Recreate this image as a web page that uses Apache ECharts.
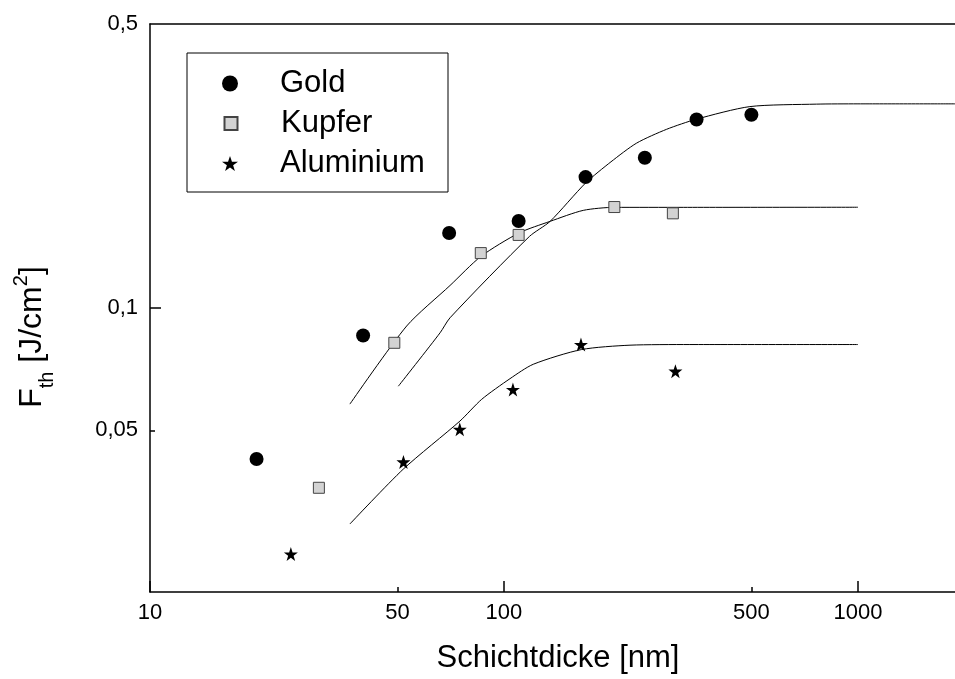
<!DOCTYPE html>
<html>
<head>
<meta charset="utf-8">
<script src="https://cdn.jsdelivr.net/npm/echarts@6/dist/echarts.min.js"></script>
<style>html,body{margin:0;padding:0;background:#fff}#c{width:955px;height:679px}</style>
</head>
<body>
<div id="c"></div>
<script>
// ---- data ----
const goldPoints = [[20,0.0425],[40,0.0856],[70,0.153],[110,0.1637],[170,0.210],[250,0.2343],[350,0.291],[500,0.299]];
const kupferPoints = [[30,0.0361],[49,0.0821],[86,0.1365],[110,0.1513],[205,0.1772],[300,0.171]];
const aluPoints = [[25,0.0248],[52,0.0418],[75,0.0503],[106,0.063],[165,0.0813],[305,0.0699]];

const goldFit = [[50.3,0.0642],[66,0.0869],[70.4,0.0946],[118,0.150],[135,0.1634],[170,0.203],[200.6,0.229],[237,0.2546],[288,0.2753],[350,0.2916],[495,0.3131],[764,0.3175],[1000,0.318],[1880,0.318]];
const kupferFit = [[36.7,0.058],[53.1,0.0903],[70.4,0.1136],[86.1,0.134],[110.3,0.153],[135,0.1634],[167.5,0.1739],[205,0.1769],[321,0.1769],[1000,0.177]];
const aluFit = [[36.7,0.0294],[51.9,0.0401],[75.1,0.0527],[86.5,0.0596],[104,0.067],[121,0.0727],[165.4,0.079],[227,0.081],[335,0.0813],[1000,0.0813]];

const xLabelValues = [10,50,100,500,1000];
const xMajorTicks = [10,100,1000];
const xMinorTicks = [50,500];
const yLabelValues = [0.05,0.1,0.5];
const yMajorTicks = [0.1];
const yMinorTicks = [0.05];
const X_MIN = 10, X_MAX = 1880, Y_MIN = 0.02, Y_MAX = 0.5;

const STAR = 'path://M50 0 L61.8 35.1 L98.1 35.1 L68.8 56.7 L79.4 91 L50 70 L20.6 91 L31.2 56.7 L1.9 35.1 L38.2 35.1 Z';
const FONT = 'Liberation Sans, Arial, sans-serif';

const chart = echarts.init(document.getElementById('c'), null, {renderer:'canvas'});

function baseX(extra){
  return Object.assign({type:'log', logBase:10, min:X_MIN, max:X_MAX, gridIndex:0,
    splitLine:{show:false}, minorTick:{show:false}, axisPointer:{show:false}}, extra);
}
function baseY(extra){
  return Object.assign({type:'log', logBase:10, min:Y_MIN, max:Y_MAX, gridIndex:0,
    splitLine:{show:false}, minorTick:{show:false}, axisPointer:{show:false}}, extra);
}
const lineBlack = {show:true, lineStyle:{color:'#000', width:1.5}};

const legendCommon = {
  orient:'vertical', padding:0, itemGap:0, selectedMode:false,
  textStyle:{fontFamily:FONT, fontSize:31, color:'#000', lineHeight:30}
};

chart.setOption({
  animation:false,
  backgroundColor:'#fff',
  grid:{left:150, right:0, top:24, bottom:87, containLabel:false},
  xAxis:[
    baseX({position:'bottom', axisLine:lineBlack,
      axisTick:{show:true, inside:true, length:11, customValues:xMajorTicks, lineStyle:{color:'#000', width:1.5}},
      axisLabel:{show:true, customValues:xLabelValues, fontFamily:FONT, fontSize:22, color:'#000', margin:10,
        formatter:v=>String(v)}}),
    baseX({position:'bottom', axisLine:{show:false},
      axisTick:{show:true, inside:true, length:5, customValues:xMinorTicks, lineStyle:{color:'#000', width:1.5}},
      axisLabel:{show:false}}),
    baseX({position:'top', axisLine:lineBlack, axisTick:{show:false}, axisLabel:{show:false}})
  ],
  yAxis:[
    baseY({position:'left', axisLine:lineBlack,
      axisTick:{show:true, inside:true, length:11, customValues:yMajorTicks, lineStyle:{color:'#000', width:1.5}},
      axisLabel:{show:true, customValues:yLabelValues, fontFamily:FONT, fontSize:22, color:'#000', margin:12,
        formatter:v=>String(v).replace('.', ',')}}),
    baseY({position:'left', axisLine:{show:false},
      axisTick:{show:true, inside:true, length:5, customValues:yMinorTicks, lineStyle:{color:'#000', width:1.5}},
      axisLabel:{show:false}})
  ],
  legend:[
    Object.assign({}, legendCommon, {data:['Gold'], left:222, top:68, itemWidth:16, itemHeight:16,
      textStyle:Object.assign({}, legendCommon.textStyle, {padding:[0,0,0,37]})}),
    Object.assign({}, legendCommon, {data:['Kupfer'], left:223.5, top:108, itemWidth:13, itemHeight:13,
      textStyle:Object.assign({}, legendCommon.textStyle, {padding:[0,0,0,38.5]})}),
    Object.assign({}, legendCommon, {data:['Aluminium'], left:222, top:148, itemWidth:16, itemHeight:16,
      textStyle:Object.assign({}, legendCommon.textStyle, {padding:[0,0,0,37]})})
  ],
  graphic:[
    {type:'rect', shape:{x:187, y:53, width:261, height:139}, style:{fill:null, stroke:'#000', lineWidth:1}, z:100},
    {type:'text', x:558, y:658, style:{text:'Schichtdicke [nm]', fontFamily:FONT, fontSize:31, fill:'#000', align:'center', verticalAlign:'middle'}},
    {type:'text', x:32, y:337, rotation:Math.PI/2,
      style:{text:'{a|F}{b|th}{a| [J/cm}{c|2}{a|]}', align:'center', verticalAlign:'middle',
        rich:{
          a:{fontFamily:FONT, fontSize:32, fill:'#000', lineHeight:34, verticalAlign:'middle'},
          b:{fontFamily:FONT, fontSize:20, fill:'#000', lineHeight:20, verticalAlign:'bottom', padding:[0,0,-8,0]},
          c:{fontFamily:FONT, fontSize:20, fill:'#000', lineHeight:20, verticalAlign:'top', padding:[-4,0,0,0]}
        }}}
  ],
  series:[
    {name:'Gold', type:'scatter', xAxisIndex:0, yAxisIndex:0, data:goldPoints, symbol:'circle', symbolSize:14,
      itemStyle:{color:'#000', opacity:1}, z:5},
    {name:'Kupfer', type:'scatter', xAxisIndex:0, yAxisIndex:0, data:kupferPoints, symbol:'rect', symbolSize:11,
      itemStyle:{color:'#d3d3d3', borderColor:'#444', borderWidth:1, opacity:1}, z:5},
    {name:'Aluminium', type:'scatter', xAxisIndex:0, yAxisIndex:0, data:aluPoints, symbol:STAR, symbolSize:14,
      itemStyle:{color:'#000', opacity:1}, z:5},
    {name:'fitGold', type:'line', xAxisIndex:0, yAxisIndex:0, data:goldFit, showSymbol:false, smooth:0.25,
      lineStyle:{color:'#000', width:1}, silent:true, z:3},
    {name:'fitKupfer', type:'line', xAxisIndex:0, yAxisIndex:0, data:kupferFit, showSymbol:false, smooth:0.25,
      lineStyle:{color:'#000', width:1}, silent:true, z:3},
    {name:'fitAlu', type:'line', xAxisIndex:0, yAxisIndex:0, data:aluFit, showSymbol:false, smooth:0.25,
      lineStyle:{color:'#000', width:1}, silent:true, z:3}
  ]
});
</script>
</body>
</html>
